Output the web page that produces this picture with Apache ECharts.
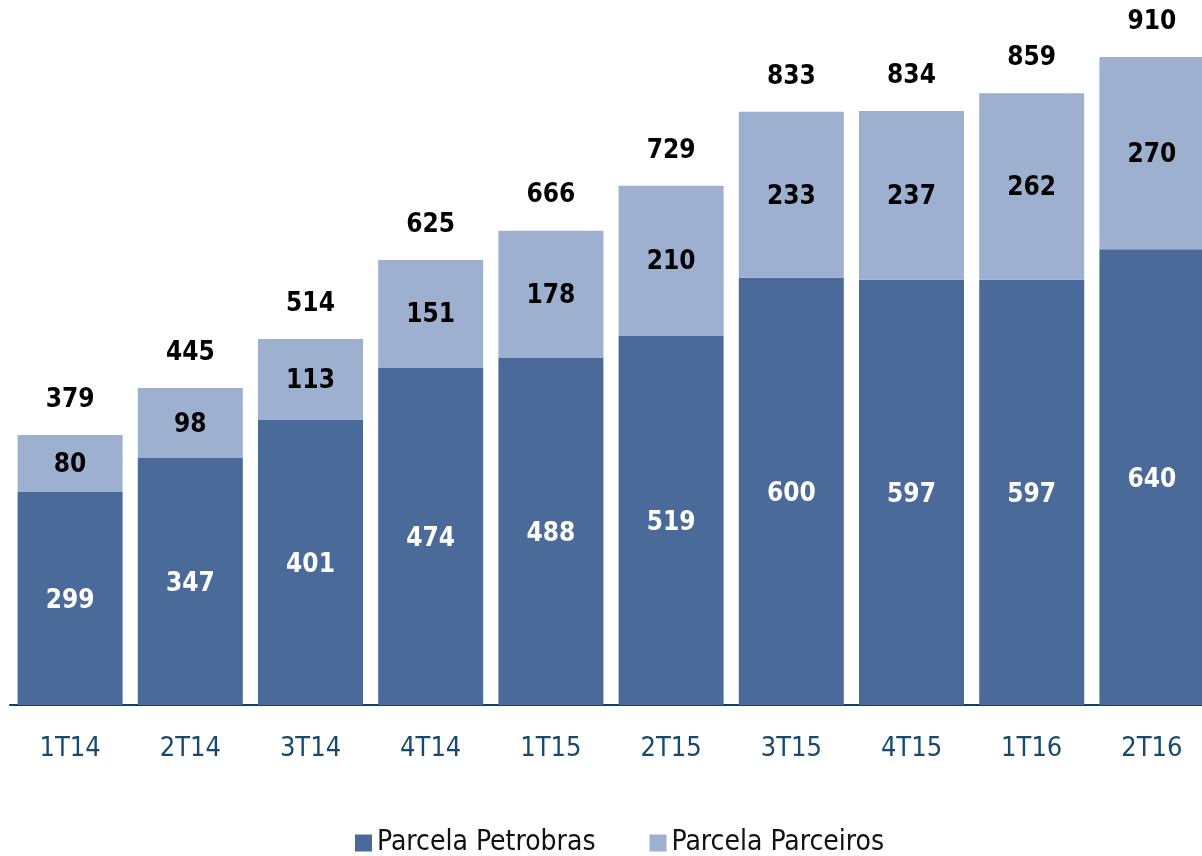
<!DOCTYPE html>
<html>
<head>
  <meta charset="utf-8" />
  <title>Parcela Petrobras / Parceiros</title>
  <script src="https://cdn.jsdelivr.net/npm/echarts@6/dist/echarts.min.js"></script>
</head>
<style type="text/css">
  body { margin: 0; background: #fff; overflow: hidden; }
  #main { width: 1212px; height: 856px; }
</style>
<body>
  <div id="main"></div>
  <script>
    var quarters = ['1T14', '2T14', '3T14', '4T14', '1T15', '2T15', '3T15', '4T15', '1T16', '2T16'];
    var petrobras = [299, 347, 401, 474, 488, 519, 600, 597, 597, 640];
    var parceiros = [80, 98, 113, 151, 178, 210, 233, 237, 262, 270];
    var totals = [379, 445, 514, 625, 666, 729, 833, 834, 859, 910];

    var font = '"DejaVu Sans Condensed", "DejaVu Sans", sans-serif';
    var myChart = echarts.init(document.getElementById('main'));

    var option = {
      animation: false,
      grid: { left: 10, top: 0, right: -1, bottom: 151, containLabel: false },
      legend: {
        bottom: -6,
        left: 350,
        itemWidth: 17,
        itemHeight: 17,
        itemGap: 54,
        icon: 'rect',
        textStyle: { fontFamily: font, fontSize: 28, color: '#111' },
        data: ['Parcela Petrobras', 'Parcela Parceiros']
      },
      xAxis: {
        type: 'category',
        data: quarters,
        axisLine: { lineStyle: { color: '#0d4466', width: 2 } },
        axisTick: { show: false },
        axisLabel: { fontFamily: font, fontSize: 27, color: '#174a6e', margin: 30 }
      },
      yAxis: {
        type: 'value',
        min: 0,
        max: 990,
        show: false,
        splitLine: { show: false }
      },
      series: [{
        name: 'Parcela Petrobras',
        type: 'bar',
        stack: 'total',
        barWidth: 105,
        data: petrobras,
        itemStyle: { color: '#4a6a99' },
        label: {
          show: true,
          position: 'inside',
          offset: [0, 3],
          fontFamily: font,
          fontWeight: 'bold',
          fontSize: 26,
          color: '#fff'
        }
      }, {
        name: 'Parcela Parceiros',
        type: 'bar',
        stack: 'total',
        barWidth: 105,
        data: parceiros,
        itemStyle: { color: '#9db0cf' },
        label: {
          show: true,
          position: 'inside',
          offset: [0, 2],
          fontFamily: font,
          fontWeight: 'bold',
          fontSize: 26,
          color: '#000'
        }
      }, {
        // total labels above each stack
        name: 'total',
        type: 'bar',
        stack: 'total',
        barWidth: 105,
        data: totals.map(function () { return 0; }),
        itemStyle: { color: 'transparent' },
        label: {
          show: true,
          position: 'top',
          distance: 22,
          fontFamily: font,
          fontWeight: 'bold',
          fontSize: 26,
          color: '#000',
          formatter: function (p) { return totals[p.dataIndex]; }
        }
      }]
    };
    myChart.setOption(option);
  </script>
</body>
</html>
